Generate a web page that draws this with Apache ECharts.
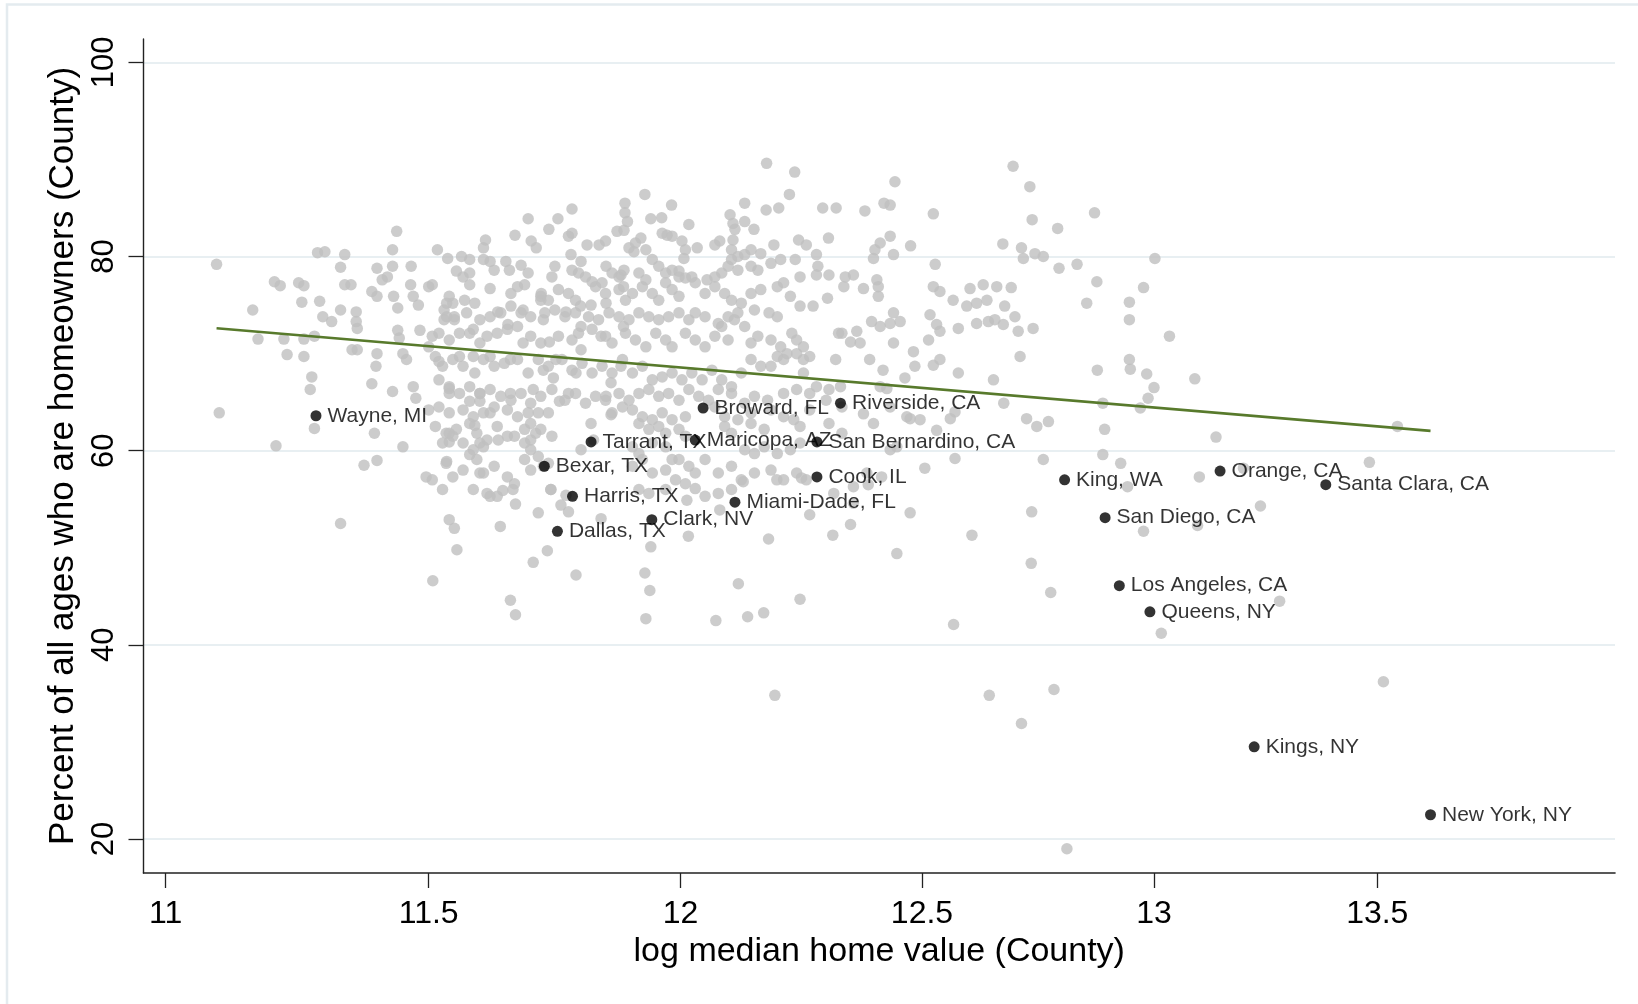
<!DOCTYPE html>
<html><head><meta charset="utf-8">
<script src="https://cdn.jsdelivr.net/npm/echarts@6/dist/echarts.min.js"></script>
<style>html,body{margin:0;padding:0;background:#fff}#chart{width:1638px;height:1004px}</style>
</head><body><div id="chart"></div>
<script>
// ---------- data ----------
const xTicks = [11, 11.5, 12, 12.5, 13, 13.5];
const yTicks = [20, 40, 60, 80, 100];

const labeledNames = ["Wayne, MI","Broward, FL","Riverside, CA","Tarrant, TX","Maricopa, AZ","San Bernardino, CA","Bexar, TX","Cook, IL","Harris, TX","Miami-Dade, FL","Clark, NV","Dallas, TX","King, WA","Orange, CA","Santa Clara, CA","San Diego, CA","Los Angeles, CA","Queens, NY","Kings, NY","New York, NY"];
const labeledX = [11.283,12.046,12.329,11.820,12.030,12.280,11.727,12.280,11.783,12.111,11.942,11.753,12.805,13.146,13.383,12.893,12.924,12.991,13.222,13.622];
const labeledY = [63.6,64.4,64.9,60.9,61.1,60.9,58.4,57.3,55.3,54.7,52.9,51.7,57.0,57.9,56.5,53.1,46.1,43.4,29.5,22.5];

const fitX = [11.095, 13.622];
const fitY = [72.62, 62.04];

const otherCountiesWest = [
[11.095,79.2],[11.100,63.9],[11.163,74.5],[11.173,71.5],[11.204,77.4],[11.215,77.0],[11.207,60.5],[11.228,69.9],[11.250,77.3],[11.260,77.0],[11.256,75.3],[11.222,71.5],[11.260,71.5],[11.280,71.8],[11.260,69.7],[11.275,67.6],[11.272,66.3],[11.280,62.3],[11.286,80.4],[11.290,75.4],[11.296,73.8],[11.313,73.3],[11.300,80.5],[11.330,74.5],[11.330,78.9],[11.338,80.2],[11.338,77.1],[11.350,77.1],[11.360,74.3],[11.360,73.3],[11.362,72.6],[11.352,70.4],[11.362,70.4],[11.390,76.4],[11.400,75.9],[11.400,70.0],[11.398,68.7],[11.390,66.9],[11.400,78.8],[11.410,77.6],[11.420,77.9],[11.430,79.0],[11.430,80.7],[11.438,82.6],[11.430,66.1],[11.432,75.9],[11.440,74.7],[11.440,72.4],[11.443,71.6],[11.450,70.0],[11.457,69.4],[11.450,60.4],[11.466,79.0],[11.465,77.1],[11.470,75.9],[11.480,75.0],[11.470,66.6],[11.475,65.4],[11.483,72.4],[11.495,57.3],
[11.330,52.5],[11.508,46.6],[11.660,44.6],[11.670,43.1],[11.790,47.2],[11.705,48.5],[11.733,49.7],[11.555,49.8],[11.540,52.9],[11.550,52.0],[11.640,52.2],[11.715,53.6],[11.670,54.5],[11.620,55.3],[11.645,55.9],[11.740,56.0],[11.375,58.5],[11.400,59.0],[11.395,61.8],[11.760,54.4],[11.775,53.7],[11.840,53.0]
];

const otherCountiesCore = [
[11.520,69.2],[11.535,75.2],[11.535,73.8],[11.530,73.5],[11.550,73.5],[11.535,58.9],[11.540,61.8],[11.540,60.9],[11.540,66.4],[11.540,65.9],[11.560,69.7],[11.570,75.5],[11.590,75.2],[11.580,72.1],[11.580,65.1],[11.600,65.1],[11.590,62.6],[11.580,59.6],[11.590,68.0],[11.600,71.1],[11.600,65.9],[11.600,60.8],[11.600,57.7],[11.620,79.5],[11.620,69.7],[11.620,63.9],[11.636,61.1],[11.635,74.3],[11.655,73.0],[11.660,69.4],[11.660,65.9],[11.665,56.0],[11.685,74.5],[11.685,71.1],[11.700,62.8],[11.710,61.8],[11.705,66.3],[11.720,75.9],[11.720,75.5],[11.725,73.5],[11.725,68.3],[11.725,58.4],[11.737,71.2],[11.740,56.0],[11.745,67.5],[11.750,69.4],[11.757,65.1],[11.770,74.3],[11.770,55.4],[11.775,65.9],[11.780,80.2],[11.800,79.5],[11.790,68.0],[11.800,70.4],[11.800,72.8],[11.800,60.1],[11.820,75.0],[11.820,62.8],[11.825,61.1],[11.840,71.8],[11.850,75.2],[11.850,65.6],[11.850,79.0],[11.860,63.7],[11.860,67.0],[11.880,78.1],[11.880,68.7],[11.885,76.9],[11.885,72.8],
[12.176,89.6],[12.234,88.7],[12.223,86.4],[11.928,86.4],[11.888,85.5],[11.888,84.5],[11.893,83.6],[11.982,85.3],[12.131,85.5],[12.175,84.8],[12.201,85.0],[12.292,85.0],[12.320,85.0],[11.782,84.9],[11.754,83.9],[11.695,83.9],[11.736,82.8],[11.940,83.9],[11.962,84.0],[12.017,83.3],[12.101,84.3],[12.107,83.4],[12.111,82.8],[12.131,83.6],[12.150,82.8],[11.669,82.2],[11.611,81.7],[11.607,80.9],[11.701,81.6],[11.711,80.9],[11.775,82.1],[11.782,82.4],[11.872,82.6],[11.886,82.7],[11.920,81.9],[11.963,82.4],[11.973,82.2],[11.983,82.1],[11.812,81.2],[11.849,81.6],[11.836,81.2],[11.909,81.4],[12.003,81.6],[12.034,80.9],[12.070,81.2],[12.080,81.6],[12.107,81.7],[12.191,81.2],[12.242,81.7],[12.258,81.2],[12.304,81.9],
[11.517,80.7],[11.537,79.8],[11.564,80.0],[11.580,79.7],[11.607,79.7],[11.651,79.5],[11.658,78.6],[11.896,80.9],[11.906,80.5],[11.930,80.7],[11.943,79.7],[11.956,79.0],[11.983,78.6],[11.997,77.9],[12.007,79.8],[12.010,80.7],[12.164,80.3],[12.279,80.2],[12.282,79.0],[12.235,79.7],[12.104,79.7],[12.117,80.0],[12.131,80.2],[12.144,80.7],[12.104,80.7],[12.339,77.9],[12.245,77.9],[12.279,78.1],[12.305,78.1],
[11.554,78.5],[11.567,77.9],[11.580,78.3],[11.628,78.6],[11.681,79.1],[11.695,78.3],[11.748,79.0],[11.742,77.9],[11.782,78.6],[11.795,78.3],[11.809,77.9],[11.822,77.4],[11.862,78.3],[11.876,77.9],[11.886,78.6],[11.916,78.3],[11.930,77.6],[11.970,78.3],[11.997,78.5],[12.010,77.8],[12.023,77.9],[12.054,77.6],[12.070,77.9],[12.084,78.3],[12.097,79.0],[12.117,78.6],[12.144,79.0],[12.158,78.6],[12.185,79.3],[12.205,79.7],
[11.500,76.9],[11.507,77.1],[11.540,75.9],[11.547,75.2],[11.580,77.1],[11.620,76.7],[11.661,76.2],[11.674,76.9],[11.688,77.1],[11.721,76.2],[11.735,75.5],[11.755,76.6],[11.775,76.2],[11.789,75.5],[11.799,74.9],[11.829,76.9],[11.842,77.3],[11.849,76.2],[11.876,76.6],[11.889,75.5],[11.903,76.2],[11.923,76.9],[11.943,76.2],[11.956,75.5],[11.970,77.3],[11.983,76.6],[11.997,75.9],[12.030,77.3],[12.050,76.2],[12.070,76.9],[12.090,76.2],[12.104,75.5],[12.124,75.2],[12.144,76.2],[12.164,76.6],[12.198,76.9],[12.211,77.3],[12.225,75.9],[12.245,74.9],[12.272,74.9],[12.302,75.7],[12.336,76.9],
[11.530,74.5],[11.550,73.8],[11.574,74.2],[11.600,73.5],[11.620,73.8],[11.641,74.2],[11.661,74.9],[11.681,74.2],[11.700,73.8],[11.728,74.2],[11.748,74.5],[11.768,73.8],[11.789,74.2],[11.815,73.8],[11.835,73.5],[11.856,74.2],[11.876,73.8],[11.896,73.5],[11.916,74.2],[11.936,73.8],[11.956,73.5],[11.976,73.8],[11.997,74.2],[12.017,73.5],[12.030,74.2],[12.050,73.8],[12.077,73.1],[12.097,73.8],[12.117,74.2],[12.151,74.5],[12.181,74.2],[12.198,73.8],[12.228,72.1],[12.238,71.4],[12.252,70.7],[12.265,69.7],[12.325,72.1],
[11.507,71.8],[11.520,72.1],[11.540,71.4],[11.560,72.1],[11.587,72.5],[11.614,71.8],[11.634,72.1],[11.654,72.5],[11.674,72.8],[11.700,71.8],[11.720,71.1],[11.755,71.8],[11.782,71.4],[11.795,72.1],[11.822,72.5],[11.849,71.8],[11.862,71.1],[11.889,72.1],[11.909,71.4],[11.930,70.7],[11.950,72.1],[11.970,71.4],[11.983,70.7],[12.010,72.1],[12.030,71.4],[12.050,70.7],[12.070,71.8],[12.084,72.8],[12.097,71.4],[12.110,73.5],[12.131,72.8],[12.144,71.1],[12.158,71.8],[12.185,71.4],[12.205,70.7],[12.218,70.0],[12.238,70.0],[12.252,69.4],[12.319,69.4],[12.332,72.1],
[11.500,70.7],[11.513,69.7],[11.527,68.7],[11.547,69.4],[11.567,68.7],[11.587,69.7],[11.607,69.4],[11.628,68.7],[11.648,69.0],[11.674,69.4],[11.695,68.0],[11.715,69.4],[11.735,68.7],[11.762,69.4],[11.782,68.3],[11.802,69.0],[11.822,68.0],[11.842,68.7],[11.862,68.0],[11.883,69.4],[11.903,68.0],[11.923,68.7],[11.943,67.3],[11.963,67.6],[11.983,68.0],[12.003,67.3],[12.023,68.0],[12.044,67.3],[12.064,68.3],[12.084,67.3],[12.104,66.6],[12.124,68.0],[12.144,69.4],[12.164,68.7],[12.185,68.7],[12.198,69.7],[12.211,69.4],[12.252,68.0],[12.279,66.6],[12.305,66.3],[12.329,66.6],
[11.520,67.3],[11.540,66.6],[11.560,65.9],[11.580,66.6],[11.600,65.9],[11.620,66.3],[11.641,65.6],[11.661,65.2],[11.681,65.9],[11.700,64.9],[11.720,65.6],[11.742,66.3],[11.768,65.2],[11.789,65.9],[11.809,64.9],[11.829,65.6],[11.849,65.2],[11.876,65.9],[11.896,65.2],[11.916,65.9],[11.936,66.3],[11.956,65.6],[11.976,65.9],[11.997,65.2],[12.017,66.3],[12.037,65.6],[12.057,65.2],[12.077,66.3],[12.104,65.9],[12.131,64.9],[12.151,65.6],[12.178,65.2],[12.211,65.9],[12.238,66.3],[12.265,65.9],
[11.500,64.2],[11.520,64.5],[11.540,63.9],[11.567,64.2],[11.587,63.5],[11.607,63.9],[11.628,64.5],[11.654,64.2],[11.674,63.5],[11.695,63.9],[11.715,63.9],[11.735,63.9],[11.862,63.9],[11.883,64.5],[11.903,64.2],[11.923,63.5],[11.943,63.2],[11.963,63.9],[11.983,63.2],[12.010,63.5],[12.070,64.5],[12.090,63.5],[12.117,63.2],[12.144,63.9],[12.185,64.2],[12.211,63.5],[12.265,64.2],[12.299,65.2],[12.332,64.5],
[11.513,62.5],[11.534,61.8],[11.554,62.2],[11.580,62.8],[11.594,61.8],[11.614,61.1],[11.634,62.5],[11.654,61.5],[11.688,62.2],[11.700,61.1],[11.720,62.2],[11.742,61.5],[11.916,62.8],[11.936,62.2],[11.956,62.5],[11.970,61.8],[11.997,62.2],[12.090,62.5],[12.104,61.8],[12.144,62.8],[12.171,62.2],[12.232,63.2],[12.245,62.5],[12.305,62.8],[12.332,61.8],
[11.527,60.8],[11.547,61.5],[11.567,60.8],[11.587,60.1],[11.607,60.4],[11.668,61.5],[11.688,60.8],[11.700,60.1],[11.715,59.4],[11.735,58.7],[11.903,60.4],[11.916,59.7],[11.943,60.8],[11.970,60.4],[11.983,59.1],[12.010,61.5],[12.131,60.1],[12.151,59.7],[12.171,60.4],[12.198,59.7],[12.225,60.1],[12.245,60.8],
[11.534,58.7],[11.547,57.3],[11.567,58.0],[11.594,59.1],[11.607,57.7],[11.628,58.4],[11.654,57.3],[11.668,56.6],[11.688,59.1],[11.700,58.0],[11.903,58.4],[11.923,59.1],[11.943,57.7],[11.970,58.0],[11.997,59.1],[12.017,58.4],[12.050,59.1],[12.077,57.7],[12.104,58.4],[12.124,57.0],[12.151,57.7],[12.185,58.0],[12.211,57.0],[12.238,57.7],[12.258,57.0],
[11.507,57.0],[11.527,56.0],[11.587,56.0],[11.614,55.6],[11.634,55.3],[11.916,56.0],[11.936,55.6],[11.970,56.0],[12.010,56.6],[12.030,56.1],[12.077,55.6],[12.104,56.0],
[12.016,51.2],[11.940,50.1],[11.928,47.4],[11.938,45.6],[11.930,42.7],[12.118,46.3],[12.072,42.5],[12.137,42.9],[12.170,43.3],[12.245,44.7],[12.180,50.9],[12.313,51.3],[12.350,52.4],[12.447,49.4],[12.193,34.8],
[11.990,57.0],[12.030,57.7],[12.050,55.3],[12.013,54.9],[12.128,56.8],[12.197,57.0],[12.248,57.2],[12.315,55.6],[12.265,53.4],[12.080,53.9]
];

const otherCountiesEast = [
[12.443,87.7],[12.694,89.3],[12.730,87.2],[12.735,83.8],[12.790,82.9],[12.870,84.5],[12.524,84.4],[12.420,85.5],[12.433,85.3],[12.380,84.7],[12.433,82.1],[12.412,81.4],[12.476,81.1],[12.440,80.2],[12.398,79.8],[12.401,80.7],[12.528,79.2],[12.672,81.3],[12.712,80.9],[12.716,79.8],[12.741,80.3],[12.759,80.0],[12.793,78.8],[12.832,79.2],[12.875,77.4],[12.853,75.2],[12.377,76.7],[12.405,77.6],[12.408,75.9],[12.408,76.9],[12.356,78.1],[12.524,76.9],[12.538,76.4],[12.566,75.5],[12.595,74.9],[12.616,75.2],[12.602,76.7],[12.630,77.1],[12.659,76.9],[12.690,76.8],[12.638,75.5],[12.676,74.9],[12.698,73.8],[12.705,72.3],[12.673,73.0],[12.737,72.6],[12.577,72.6],[12.616,73.1],[12.641,73.3],[12.655,73.5],[12.517,74.0],[12.531,73.0],[12.538,72.3],[12.440,74.2],[12.394,73.3],[12.412,72.8],[12.433,73.1],[12.454,73.3],[12.363,72.3],[12.440,71.1],[12.482,70.2],[12.514,71.4],[12.350,71.2],[12.370,71.1],[12.390,69.4],[12.418,68.3],[12.464,67.5],[12.485,68.7],[12.524,68.8],[12.538,69.4],[12.577,68.0],[12.652,67.3],[12.709,69.7],[12.876,68.3],[12.412,66.6],[12.426,66.4],[12.745,62.5],[12.770,63.0],[12.723,63.3],[12.674,64.9],[12.570,64.0],[12.531,62.1],[12.560,63.3],[12.475,63.3],[12.496,63.2],[12.433,64.5],[12.468,63.5],[12.377,63.8],[12.398,62.8],[12.433,60.1],[12.447,60.4],[12.506,58.2],[12.570,59.2],[12.759,59.1],[12.734,53.7],[12.384,57.7],[12.415,57.3],[12.387,56.5],[12.475,53.6],[12.606,51.3],[12.356,56.3],[12.356,54.6],
[13.002,79.8],[12.977,76.8],[12.946,75.3],[12.946,73.5],[13.034,71.8],[12.946,69.4],[12.948,68.4],[12.984,67.9],[13.000,66.5],[12.987,65.4],[12.970,64.4],[13.090,67.4],[13.137,61.4],[13.482,58.8],[13.546,62.5],[13.100,57.3],[13.236,54.3],[12.977,51.7],[13.096,52.3],[13.198,58.2],[12.942,56.3],[12.927,58.7],[12.888,59.6],[12.892,62.2],[12.888,64.9],[13.016,41.2],[13.279,44.5],[12.775,45.4],[12.733,48.4],
[12.567,42.1],[13.514,36.2],[12.643,34.8],[12.782,35.4],[12.712,31.9],[12.810,19.0]
];

// ---------- chart ----------
const FONT = "'Liberation Sans', Arial, Helvetica, sans-serif";
const greyPoints = otherCountiesWest.concat(otherCountiesCore, otherCountiesEast);
const labeled = labeledNames.map((n, i) => ({ name: n, value: [labeledX[i], labeledY[i]] }));
const fitLine = fitX.map((x, i) => [x, fitY[i]]);

const chart = echarts.init(document.getElementById('chart'), null, { renderer: 'canvas' });
chart.setOption({
  animation: false,
  backgroundColor: '#ffffff',
  graphic: [{
    type: 'rect', silent: true, z: -10,
    shape: { x: 7, y: 4.5, width: 1700, height: 1100 },
    style: { fill: 'none', stroke: '#e4ebef', lineWidth: 2.5 }
  }],
  grid: { left: 143.5, right: 23, top: 39, bottom: 131, containLabel: false },
  xAxis: {
    type: 'log', logBase: 10,
    min: 10.9588, max: 14.0535,
    name: 'log median home value (County)',
    nameLocation: 'middle', nameGap: 49,
    nameTextStyle: { fontFamily: FONT, fontSize: 34, color: '#000' },
    axisLine: { show: true, onZero: false, lineStyle: { color: '#222', width: 1.6 } },
    axisTick: { show: true, length: 15, customValues: xTicks, lineStyle: { color: '#222', width: 1.3 } },
    axisLabel: {
      customValues: xTicks, margin: 25, fontFamily: FONT, fontSize: 32, color: '#000',
      formatter: v => String(Math.round(v * 10) / 10)
    },
    splitLine: { show: false },
    minorTick: { show: false }, minorSplitLine: { show: false }
  },
  yAxis: {
    type: 'value',
    min: 16.5, max: 102.41,
    name: 'Percent of all ages who are homeowners (County)',
    nameLocation: 'middle', nameGap: 58, nameRotate: 90,
    nameTextStyle: { fontFamily: FONT, fontSize: 35, color: '#000' },
    axisLine: { show: true, onZero: false, lineStyle: { color: '#222', width: 1.4 } },
    axisTick: { show: true, length: 15, customValues: yTicks, lineStyle: { color: '#222', width: 1.3 } },
    axisLabel: {
      customValues: yTicks, rotate: 90, margin: 24, fontFamily: FONT, fontSize: 31, color: '#000',
      formatter: v => String(Math.round(v))
    },
    splitLine: { show: true, lineStyle: { color: '#e8eff2', width: 2.2 } }
  },
  series: [
    {
      type: 'scatter', name: 'counties', data: greyPoints,
      symbol: 'circle', symbolSize: 11.5,
      itemStyle: { color: '#bfbfbf' }, z: 2
    },
    {
      type: 'line', name: 'fit', data: fitLine,
      symbol: 'none', lineStyle: { color: '#587a2c', width: 2.6 }, z: 3
    },
    {
      type: 'scatter', name: 'largest', data: labeled,
      symbol: 'circle', symbolSize: 11,
      itemStyle: { color: '#000' }, z: 4,
      label: {
        show: true, position: 'right', distance: 6, formatter: '{b}',
        fontFamily: FONT, fontSize: 21, color: '#000'
      }
    }
  ]
});
</script>
</body></html>
